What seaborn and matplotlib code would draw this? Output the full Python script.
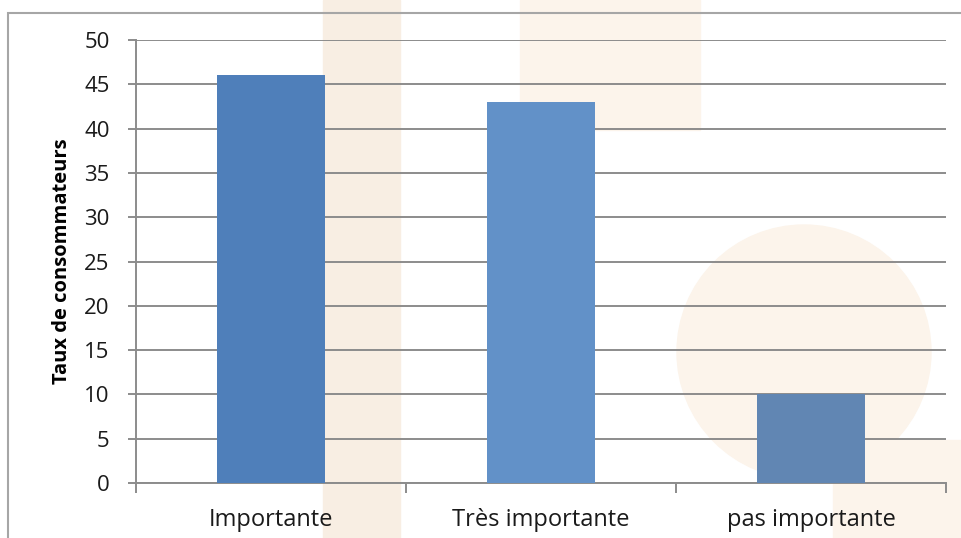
import matplotlib
matplotlib.use("Agg")
import matplotlib.pyplot as plt
from matplotlib.patches import Rectangle, Circle
import seaborn as sns
import pandas as pd

# Survey results
categories = ["Importante", "Très importante", "pas importante"]
values = [46, 43, 10]
y_ticks = [0, 5, 10, 15, 20, 25, 30, 35, 40, 45, 50]
y_label = "Taux de consommateurs"

bar_colors = ["#4F7FBA", "#6291C8", "#6186B3"]

sns.set_theme(style="white")
plt.rcParams["font.family"] = ["Open Sans", "DejaVu Sans"]

W, H = 961, 538
fig = plt.figure(figsize=(W / 100, H / 100), dpi=100)
fig.patch.set_facecolor("white")

def fx(px):
    return px / W

def fy(py):
    return 1 - py / H

# faint background shapes
light = "#F8EEE3"
pale = "#FCF4EB"
fig.patches.append(Rectangle((fx(323), 0), fx(400) - fx(323), 1,
                             transform=fig.transFigure, color=light, zorder=0))
fig.patches.append(Rectangle((fx(520), fy(130)), fx(700) - fx(520), fy(0) - fy(130),
                             transform=fig.transFigure, color=pale, zorder=0))
fig.patches.append(Circle((804, H - 352), 127, transform=None,
                          color=pale, zorder=0))
fig.patches.append(Rectangle((fx(833), 0), 1 - fx(833), fy(440),
                             transform=fig.transFigure, color=pale, zorder=0))

# outer chart frame
fig.patches.append(Rectangle((fx(8), -0.05), 1.1, fy(13) + 0.05,
                             transform=fig.transFigure, fill=False,
                             edgecolor="#A6A6A6", linewidth=1.5, zorder=1))

ax = fig.add_axes([fx(136), fy(483), fx(946) - fx(136), fy(40) - fy(483)])
ax.set_zorder(2)
ax.set_facecolor("none")

df = pd.DataFrame({"cat": categories, "val": values})
sns.barplot(data=df, x="cat", y="val", hue="cat", palette=bar_colors,
            width=0.4, legend=False, saturation=1, linewidth=0, ax=ax, zorder=3)

ax.set_ylim(0, 50)
ax.set_xlim(-0.5, 2.5)
ax.set_yticks(y_ticks)
ax.yaxis.grid(True, color="#8C8C8C", linewidth=1.4, zorder=0)
ax.set_axisbelow(True)

for side in ["top", "right"]:
    ax.spines[side].set_visible(False)
for side in ["left", "bottom"]:
    ax.spines[side].set_color("#8C8C8C")
    ax.spines[side].set_linewidth(1.4)

ax.tick_params(axis="y", which="major", length=6, width=1.4, color="#8C8C8C",
               labelsize=16, labelcolor="#1A1A1A", pad=13, left=True)
ax.tick_params(axis="x", which="major", length=0, labelsize=17,
               labelcolor="#1A1A1A", pad=18)
ax.set_xticks(range(len(categories)))
ax.set_xticklabels(categories)
ax.set_xticks([-0.5, 0.5, 1.5, 2.5], minor=True)
ax.tick_params(axis="x", which="minor", length=7, width=1.4, color="#8C8C8C",
               bottom=True)

ax.set_xlabel("")
ax.set_ylabel(y_label, fontsize=14.5, fontweight="bold", color="black")
ax.yaxis.set_label_coords(-0.079, 0.5)

fig.savefig("out.png", dpi=100, facecolor="white")
